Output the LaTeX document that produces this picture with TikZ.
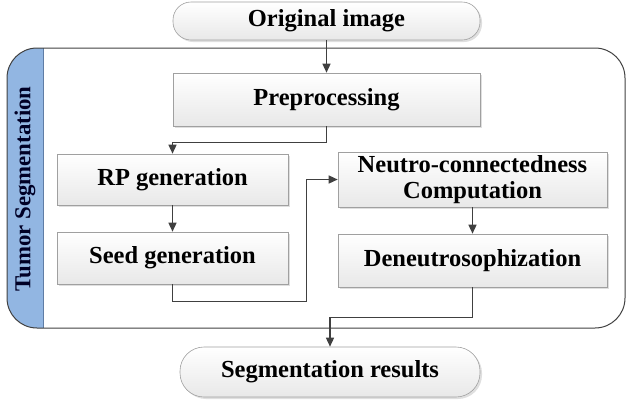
\documentclass[tikz,border=0pt]{standalone}
\usepackage{fontspec}
\setmainfont{Liberation Serif}
\usepackage{tikz}
\usetikzlibrary{shadows,arrows.meta,positioning}

\definecolor{linegray}{RGB}{64,64,64}
\definecolor{boxline}{RGB}{160,160,160}
\definecolor{stripblue}{RGB}{146,182,226}
\definecolor{stripedge}{RGB}{95,125,165}

\begin{document}
\begin{tikzpicture}[x=1pt,y=-1pt,
  stepbox/.style={draw=boxline, line width=0.6pt, top color=white, bottom color=gray!18,
    drop shadow={shadow xshift=2pt, shadow yshift=-2pt, opacity=0.25},
    font=\fontsize{24.5}{26}\selectfont\bfseries, align=center, inner sep=0pt},
  pill/.style={stepbox, rounded corners=18pt},
  flow/.style={draw=linegray, line width=1.4pt, -{Triangle[length=9pt,width=8pt]}}]
%\draw [help lines, step=10pt](0,0) grid (626,400);
\useasboundingbox (0,0) rectangle (626,400);

% outer frame and side strip
\begin{scope}
\clip (0,0) rectangle (43,400);
\fill [stripblue, rounded corners=30pt] (7,48) rectangle (625,328);
\end{scope}
\draw [stripedge, line width=0.8pt] (43,48) -- (43,328);
\draw [linegray, line width=1pt, rounded corners=30pt] (7,48) rectangle (625,328);
\node [rotate=90, font=\fontsize{22.8}{25}\selectfont\bfseries, text=black!85!blue] (strip) at (25,189) {Tumor Segmentation};

% steps
\node [pill, minimum width=307pt, minimum height=38pt] (orig) at (326.5,21) {Original image};
\node [stepbox, minimum width=307pt, minimum height=53pt] (prep) at (326.5,99.5) {Preprocessing};
\node [stepbox, minimum width=231pt, minimum height=51pt] (rp) at (172.5,179.5) {RP generation};
\node [stepbox, minimum width=231pt, minimum height=52pt] (seed) at (172.5,258) {Seed generation};
\node [stepbox, minimum width=269pt, minimum height=55pt] (neutro) at (472.5,179.5) {Neutro-connectedness\\Computation};
\node [stepbox, minimum width=269pt, minimum height=53pt] (deneu) at (472.5,260.5) {Deneutrosophization};
\node [pill, rounded corners=24pt, minimum width=300pt, minimum height=50pt] (seg) at (330,372) {Segmentation results};

% connectors
\draw [flow] (orig) -- (prep);
\draw [flow] (prep.south) -- ++(0,16) -| (rp.north);
\draw [flow] (rp) -- (seed);
\draw [flow] (seed.south) -- ++(0,17) -| ([xshift=-31pt]neutro.west) -- (neutro.west);
\draw [flow] (neutro) -- (deneu);
\draw [flow] (deneu.south) -- ++(0,30) -| (seg.north);

\end{tikzpicture}
\end{document}
